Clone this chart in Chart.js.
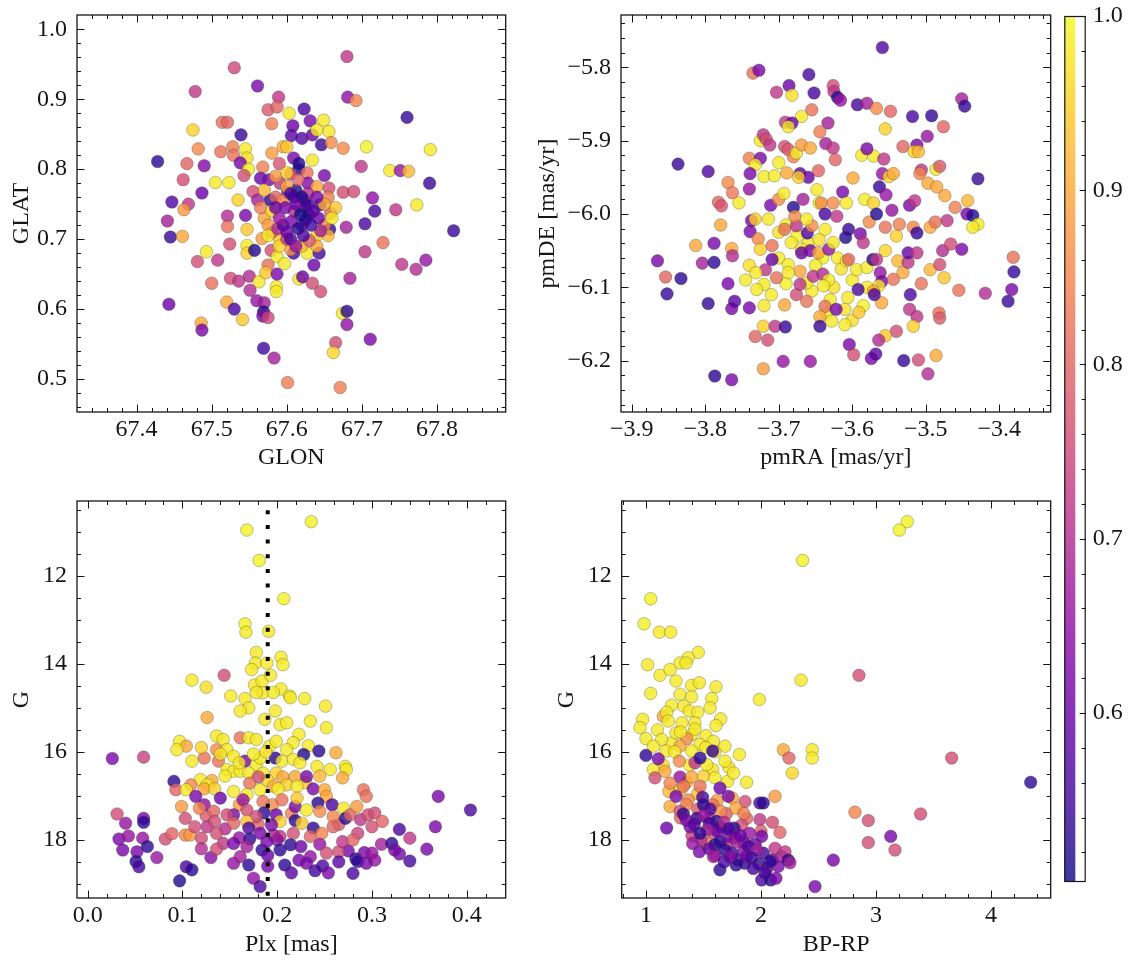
<!DOCTYPE html>
<html><head><meta charset="utf-8">
<script src="https://cdn.jsdelivr.net/npm/chart.js@4.4.1/dist/chart.umd.min.js"></script>
<style>
html,body{margin:0;padding:0;background:#fff;width:1133px;height:965px;overflow:hidden}
canvas{position:absolute}
</style></head><body>
<canvas id="cTL" style="left:0px;top:0px" width="515" height="480"></canvas>
<canvas id="cTR" style="left:521px;top:0px" width="540" height="480"></canvas>
<canvas id="cBL" style="left:0px;top:480px" width="515" height="485"></canvas>
<canvas id="cBR" style="left:521px;top:480px" width="540" height="485"></canvas>
<canvas id="cCB" style="left:1040px;top:0px" width="93" height="965"></canvas>
<script>
// ---------------- data: [x, y, membership probability] ----------------
const glonGlatProb = [
[67.680,0.961,0.72],[67.530,0.945,0.75],[67.478,0.911,0.72],[67.561,0.919,0.62],[67.589,0.903,0.72],[67.681,0.903,0.65],[67.692,0.898,0.85],[67.575,0.885,0.78],[67.587,0.889,0.80],[67.603,0.880,0.98],
[67.623,0.886,0.56],[67.760,0.874,0.54],[67.514,0.867,0.82],[67.521,0.867,0.80],[67.580,0.865,0.84],[67.631,0.869,0.62],[67.649,0.870,0.98],[67.608,0.862,0.60],[67.656,0.854,0.98],[67.475,0.856,0.95],
[67.539,0.849,0.54],[67.606,0.848,0.58],[67.620,0.844,0.57],[67.634,0.849,0.60],[67.640,0.856,0.98],[67.646,0.835,0.54],[67.659,0.838,0.86],[67.675,0.830,0.86],[67.706,0.832,0.99],[67.791,0.828,0.98],
[67.482,0.829,0.86],[67.512,0.825,0.82],[67.528,0.832,0.84],[67.529,0.820,0.82],[67.545,0.829,0.98],[67.547,0.816,0.97],[67.580,0.823,0.88],[67.595,0.832,0.90],[67.600,0.832,0.94],[67.609,0.816,0.62],
[67.634,0.813,0.98],[67.428,0.811,0.53],[67.467,0.808,0.80],[67.490,0.805,0.63],[67.538,0.809,0.62],[67.549,0.800,0.98],[67.568,0.803,0.84],[67.590,0.808,0.77],[67.616,0.808,0.52],[67.616,0.800,0.52],
[67.627,0.795,0.82],[67.605,0.793,0.76],[67.650,0.791,0.62],[67.699,0.804,0.72],[67.737,0.798,0.98],[67.751,0.798,0.66],[67.762,0.797,0.92],[67.790,0.780,0.54],[67.462,0.785,0.76],[67.505,0.781,0.98],
[67.523,0.781,0.98],[67.543,0.791,0.76],[67.565,0.787,0.60],[67.576,0.785,0.62],[67.591,0.780,0.72],[67.628,0.780,0.63],[67.656,0.773,0.76],[67.675,0.767,0.76],[67.689,0.768,0.76],[67.487,0.766,0.60],
[67.447,0.753,0.57],[67.469,0.750,0.72],[67.463,0.742,0.88],[67.535,0.756,0.95],[67.555,0.768,0.76],[67.561,0.756,0.68],[67.578,0.756,0.53],[67.601,0.767,0.60],[67.612,0.770,0.52],[67.624,0.755,0.52],
[67.644,0.749,0.56],[67.658,0.737,0.80],[67.714,0.759,0.65],[67.717,0.740,0.56],[67.745,0.742,0.72],[67.773,0.749,0.98],[67.441,0.726,0.68],[67.445,0.703,0.54],[67.461,0.704,0.90],[67.521,0.733,0.70],
[67.521,0.718,0.82],[67.545,0.734,0.62],[67.547,0.714,0.94],[67.524,0.693,0.76],[67.493,0.682,0.98],[67.481,0.668,0.76],[67.508,0.670,0.72],[67.547,0.691,0.98],[67.547,0.680,0.95],[67.557,0.684,0.52],
[67.567,0.701,0.88],[67.579,0.684,0.76],[67.587,0.675,0.98],[67.597,0.665,0.98],[67.609,0.680,0.55],[67.627,0.680,0.98],[67.643,0.680,0.56],[67.636,0.663,0.60],[67.657,0.714,0.54],[67.679,0.717,0.68],
[67.704,0.722,0.56],[67.822,0.712,0.54],[67.728,0.695,0.82],[67.704,0.682,0.72],[67.753,0.664,0.72],[67.772,0.657,0.70],[67.785,0.670,0.66],[67.684,0.644,0.68],[67.525,0.644,0.76],[67.536,0.640,0.72],
[67.500,0.637,0.82],[67.550,0.647,0.70],[67.563,0.639,0.98],[67.575,0.663,0.82],[67.572,0.652,0.94],[67.587,0.650,0.62],[67.586,0.632,0.98],[67.586,0.625,0.98],[67.616,0.643,0.98],[67.621,0.646,0.60],
[67.634,0.637,0.76],[67.645,0.625,0.76],[67.551,0.627,0.70],[67.560,0.612,0.66],[67.570,0.609,0.68],[67.520,0.610,0.90],[67.530,0.600,0.56],[67.541,0.585,0.94],[67.443,0.607,0.60],[67.569,0.596,0.52],
[67.568,0.590,0.62],[67.575,0.588,0.75],[67.486,0.580,0.90],[67.487,0.570,0.62],[67.674,0.594,0.98],[67.680,0.597,0.53],[67.680,0.578,0.65],[67.711,0.557,0.62],[67.665,0.552,0.76],[67.662,0.538,0.96],
[67.569,0.544,0.55],[67.583,0.530,0.68],[67.601,0.495,0.84],[67.671,0.488,0.84],
[67.570,0.770,0.92],[67.585,0.790,0.88],[67.600,0.795,0.95],[67.615,0.785,0.80],[67.640,0.775,0.90],[67.655,0.760,0.84],[67.665,0.745,0.94],[67.650,0.720,0.86],[67.640,0.705,0.96],[67.620,0.690,0.92],
[67.605,0.685,0.88],[67.590,0.700,0.94],[67.570,0.730,0.90],[67.565,0.745,0.84],[67.580,0.710,0.78],
[67.575,0.720,0.88],[67.580,0.740,0.95],[67.650,0.750,0.90],[67.585,0.760,0.80],[67.660,0.730,0.98],[67.590,0.690,0.96],[67.640,0.690,0.90],[67.655,0.705,0.92],[67.600,0.775,0.90],[67.575,0.705,0.98],
[67.628,0.765,0.70],[67.595,0.755,0.85],[67.600,0.700,0.74],[67.630,0.698,0.78],[67.588,0.715,0.70],[67.645,0.712,0.68],[67.610,0.740,0.70],[67.625,0.745,0.66],
[67.595,0.720,0.58],[67.630,0.735,0.54],[67.610,0.760,0.58],[67.640,0.760,0.62],[67.585,0.745,0.60],[67.620,0.720,0.64],[67.605,0.700,0.56],
[67.605,0.765,0.55],[67.620,0.760,0.52],[67.612,0.750,0.60],[67.628,0.748,0.54],[67.598,0.745,0.62],[67.635,0.740,0.58],[67.618,0.735,0.50],[67.625,0.728,0.52],[67.606,0.725,0.62],[67.590,0.730,0.66],
[67.642,0.730,0.60],[67.632,0.720,0.55],[67.615,0.715,0.52],[67.600,0.710,0.60],[67.622,0.705,0.56],[67.612,0.690,0.66]
];

const pmraPmdeProb = [
[-3.559,-5.773,0.57],[-3.735,-5.808,0.82],[-3.727,-5.804,0.62],[-3.659,-5.810,0.56],[-3.703,-5.834,0.72],[-3.686,-5.825,0.60],[-3.682,-5.838,0.97],[-3.652,-5.835,0.56],[-3.626,-5.825,0.76],[-3.625,-5.833,0.72],
[-3.620,-5.841,0.52],[-3.616,-5.845,0.66],[-3.593,-5.851,0.56],[-3.580,-5.849,0.68],[-3.567,-5.856,0.86],[-3.548,-5.860,0.80],[-3.555,-5.884,0.95],[-3.518,-5.867,0.56],[-3.492,-5.866,0.54],[-3.476,-5.881,0.80],
[-3.451,-5.843,0.68],[-3.447,-5.853,0.54],[-3.669,-5.867,0.98],[-3.655,-5.858,0.82],[-3.691,-5.875,0.72],[-3.682,-5.876,0.60],[-3.687,-5.881,0.98],[-3.633,-5.876,0.68],[-3.644,-5.888,0.84],[-3.725,-5.900,0.98],
[-3.721,-5.892,0.72],[-3.717,-5.898,0.76],[-3.712,-5.906,0.72],[-3.740,-5.924,0.84],[-3.725,-5.924,0.62],[-3.732,-5.933,0.98],[-3.692,-5.908,0.76],[-3.687,-5.912,0.78],[-3.680,-5.922,0.84],[-3.676,-5.917,0.98],
[-3.669,-5.906,0.88],[-3.657,-5.910,0.90],[-3.636,-5.904,0.68],[-3.626,-5.910,0.72],[-3.623,-5.926,0.80],[-3.700,-5.930,0.98],[-3.646,-5.941,0.80],[-3.739,-5.945,0.62],[-3.720,-5.949,0.98],[-3.706,-5.948,0.98],
[-3.689,-5.944,0.90],[-3.671,-5.945,0.58],[-3.660,-5.950,0.60],[-3.673,-5.950,0.95],[-3.587,-5.920,0.98],[-3.571,-5.921,0.98],[-3.580,-5.911,0.62],[-3.557,-5.925,0.72],[-3.559,-5.945,0.66],[-3.550,-5.949,0.95],
[-3.544,-5.945,0.90],[-3.531,-5.908,0.80],[-3.512,-5.906,0.62],[-3.516,-5.915,0.95],[-3.510,-5.915,0.92],[-3.498,-5.894,0.66],[-3.506,-5.940,0.72],[-3.508,-5.945,0.85],[-3.486,-5.939,0.98],[-3.481,-5.935,0.78],
[-3.429,-5.952,0.54],[-3.599,-5.951,0.90],[-3.837,-5.932,0.54],[-3.796,-5.942,0.57],[-3.769,-5.957,0.86],[-3.763,-5.971,0.83],[-3.740,-5.966,0.66],[-3.754,-5.985,0.98],[-3.782,-5.984,0.80],[-3.778,-5.989,0.77],
[-3.711,-5.988,0.62],[-3.700,-5.980,0.86],[-3.693,-5.972,0.98],[-3.680,-5.991,0.52],[-3.667,-5.980,0.68],[-3.648,-5.967,0.98],[-3.645,-5.985,0.98],[-3.613,-5.970,0.62],[-3.608,-5.985,0.98],[-3.642,-5.985,0.86],
[-3.626,-5.985,0.86],[-3.583,-5.980,0.98],[-3.571,-5.985,0.95],[-3.563,-5.963,0.54],[-3.554,-5.974,0.66],[-3.546,-5.995,0.66],[-3.522,-5.988,0.62],[-3.515,-5.982,0.72],[-3.497,-5.958,0.90],[-3.485,-5.963,0.90],
[-3.474,-5.975,0.90],[-3.460,-5.991,0.84],[-3.443,-5.982,0.92],[-3.444,-6.000,0.62],[-3.436,-6.002,0.52],
[-3.690,-6.015,0.98],[-3.700,-6.025,0.97],[-3.675,-6.030,0.99],[-3.660,-6.040,0.98],[-3.645,-6.035,0.97],[-3.640,-6.060,0.99],[-3.620,-6.060,0.98],[-3.615,-6.075,0.97],[-3.650,-6.070,0.98],[-3.700,-6.060,0.98],
[-3.690,-6.095,0.99],[-3.655,-6.105,0.98],[-3.625,-6.100,0.97],[-3.600,-6.090,0.98],[-3.610,-6.130,0.97],[-3.585,-6.125,0.99],[-3.740,-6.070,0.97],[-3.745,-6.090,0.98],[-3.710,-6.110,0.98],[-3.635,-6.135,0.98],
[-3.580,-6.100,0.98],[-3.555,-6.050,0.96],[-3.540,-6.030,0.95],[-3.720,-6.125,0.98],[-3.600,-6.145,0.97],
[-3.779,-6.015,0.90],[-3.737,-6.009,0.62],[-3.739,-6.024,0.62],[-3.728,-6.034,0.86],[-3.732,-6.007,0.95],[-3.714,-6.007,0.98],[-3.692,-6.021,0.82],[-3.676,-6.016,0.72],[-3.678,-6.003,0.86],[-3.661,-6.026,0.56],
[-3.655,-6.016,0.86],[-3.662,-6.007,0.98],[-3.637,-6.000,0.56],[-3.637,-6.021,0.98],[-3.621,-6.003,0.72],[-3.609,-6.032,0.52],[-3.605,-6.021,0.54],[-3.589,-6.027,0.62],[-3.585,-6.039,0.72],[-3.577,-6.011,0.86],
[-3.567,-6.000,0.52],[-3.555,-6.018,0.82],[-3.536,-6.014,0.84],[-3.517,-6.018,0.85],[-3.512,-6.026,0.54],[-3.494,-6.018,0.90],[-3.487,-6.011,0.82],[-3.471,-6.009,0.72],[-3.429,-6.014,0.98],[-3.436,-6.018,0.98],
[-3.813,-6.043,0.90],[-3.788,-6.040,0.62],[-3.764,-6.047,0.90],[-3.763,-6.057,0.70],[-3.865,-6.064,0.62],[-3.854,-6.086,0.80],[-3.852,-6.109,0.54],[-3.833,-6.088,0.53],[-3.804,-6.067,0.68],[-3.788,-6.066,0.53],
[-3.769,-6.095,0.62],[-3.796,-6.122,0.54],[-3.764,-6.129,0.62],[-3.760,-6.119,0.58],[-3.740,-6.128,0.62],
[-3.725,-6.048,0.95],[-3.709,-6.043,0.82],[-3.683,-6.039,0.98],[-3.669,-6.048,0.98],[-3.669,-6.053,0.60],[-3.657,-6.050,0.62],[-3.646,-6.053,0.90],[-3.632,-6.048,0.66],[-3.626,-6.039,0.98],[-3.687,-6.069,0.98],
[-3.671,-6.078,0.90],[-3.687,-6.080,0.98],[-3.709,-6.062,0.60],[-3.718,-6.076,0.72],[-3.703,-6.087,0.82],[-3.731,-6.080,0.98],[-3.720,-6.096,0.98],[-3.730,-6.103,0.98],[-3.692,-6.124,0.90],[-3.676,-6.110,0.76],
[-3.662,-6.119,0.82],[-3.662,-6.094,0.98],[-3.671,-6.096,0.72],[-3.653,-6.085,0.72],[-3.640,-6.082,0.70],[-3.632,-6.090,0.98],[-3.639,-6.098,0.98],[-3.630,-6.117,0.98],[-3.637,-6.126,0.82],[-3.622,-6.130,0.62],
[-3.644,-6.140,0.90],[-3.644,-6.153,0.54],[-3.628,-6.146,0.98],[-3.721,-6.153,0.95],[-3.705,-6.153,0.72],[-3.691,-6.154,0.54],[-3.610,-6.151,0.98],[-3.608,-6.064,0.98],[-3.605,-6.062,0.80],[-3.594,-6.076,0.98],
[-3.580,-6.073,0.98],[-3.572,-6.062,0.52],[-3.567,-6.062,0.72],[-3.562,-6.080,0.66],[-3.560,-6.092,0.62],[-3.564,-6.098,0.98],[-3.571,-6.105,0.90],[-3.560,-6.121,0.90],[-3.570,-6.110,0.56],[-3.592,-6.103,0.56],
[-3.606,-6.114,0.98],[-3.591,-6.134,0.94],[-3.544,-6.089,0.82],[-3.538,-6.064,0.92],[-3.531,-6.080,0.90],[-3.524,-6.066,0.72],[-3.524,-6.053,0.60],[-3.512,-6.053,0.72],[-3.521,-6.110,0.56],[-3.506,-6.095,0.82],
[-3.494,-6.076,0.92],[-3.481,-6.069,0.76],[-3.475,-6.087,0.94],[-3.477,-6.050,0.70],[-3.466,-6.041,0.76],[-3.451,-6.048,0.62],[-3.455,-6.104,0.82],[-3.419,-6.108,0.70],[-3.381,-6.059,0.82],[-3.380,-6.079,0.54],
[-3.383,-6.103,0.62],[-3.388,-6.119,0.54],[-3.522,-6.130,0.72],[-3.512,-6.140,0.72],[-3.517,-6.153,0.95],[-3.482,-6.135,0.82],[-3.481,-6.142,0.78],[-3.540,-6.160,0.76],[-3.555,-6.166,0.94],[-3.564,-6.172,0.70],
[-3.604,-6.178,0.62],[-3.598,-6.192,0.76],[-3.574,-6.197,0.62],[-3.568,-6.191,0.58],[-3.530,-6.200,0.54],[-3.510,-6.199,0.76],[-3.486,-6.193,0.90],[-3.497,-6.218,0.70],[-3.732,-6.167,0.80],[-3.715,-6.172,0.76],
[-3.721,-6.211,0.88],[-3.694,-6.201,0.66],[-3.657,-6.201,0.66],[-3.787,-6.221,0.53],[-3.764,-6.226,0.62]
];

const plxGProb = [
[0.236,10.77,0.99],[0.168,10.96,0.99],[0.181,11.65,0.99],[0.207,12.52,0.99],[0.166,13.09,0.99],[0.167,13.28,0.98],[0.191,13.26,0.98],[0.178,13.74,0.98],[0.204,13.85,0.98],[0.206,14.02,0.98],
[0.177,13.98,0.98],[0.189,13.98,0.98],[0.173,14.13,0.98],[0.144,14.26,0.76],[0.110,14.37,0.98],[0.125,14.53,0.97],[0.176,14.48,0.98],[0.184,14.39,0.98],[0.193,14.26,0.98],[0.204,14.57,0.98],
[0.185,14.66,0.98],[0.213,14.73,0.98],[0.151,14.73,0.98],[0.166,14.79,0.98],[0.229,14.79,0.98],[0.170,15.00,0.98],[0.178,14.65,0.98],[0.196,14.65,0.98],[0.214,14.77,0.98],[0.251,14.96,0.98],
[0.126,15.22,0.90],[0.161,15.07,0.98],[0.187,15.26,0.98],[0.198,15.07,0.98],[0.203,15.38,0.98],[0.210,15.34,0.98],[0.235,15.30,0.98],[0.252,15.45,0.98],[0.223,15.60,0.98],[0.136,15.64,0.98],
[0.143,15.72,0.98],[0.161,15.68,0.82],[0.170,15.68,0.98],[0.178,15.72,0.98],[0.192,15.87,0.98],[0.199,15.76,0.98],[0.217,15.79,0.98],[0.233,15.86,0.98],[0.097,15.76,0.98],[0.104,15.87,0.90],
[0.094,15.95,0.98],[0.110,16.21,0.98],[0.123,16.14,0.82],[0.136,15.95,0.86],[0.147,15.95,0.98],[0.154,16.10,0.98],[0.138,16.21,0.82],[0.166,16.21,0.62],[0.178,16.29,0.98],[0.182,16.14,0.98],
[0.198,16.14,0.53],[0.205,16.21,0.98],[0.217,16.17,0.98],[0.228,16.06,0.52],[0.244,15.98,0.53],[0.262,16.02,0.90],[0.224,16.25,0.98],[0.242,16.33,0.98],[0.256,16.40,0.98],[0.272,16.33,0.98],
[0.273,16.40,0.98],[0.269,16.59,0.90],[0.026,16.15,0.62],[0.059,16.12,0.74],[0.147,16.40,0.98],[0.154,16.44,0.98],[0.161,16.44,0.98],[0.170,16.48,0.98],[0.185,16.48,0.98],[0.199,16.48,0.95],
[0.145,16.55,0.98],[0.160,16.25,0.98],[0.188,16.00,0.97],[0.210,15.95,0.98],[0.230,16.70,0.95],[0.245,16.55,0.92],[0.190,16.65,0.96],[0.175,16.05,0.98],[0.140,16.05,0.97],[0.120,15.90,0.95],
[0.206,16.57,0.90],[0.219,16.56,0.90],[0.231,16.56,0.62],[0.210,16.75,0.95],[0.221,16.78,0.98],[0.119,16.63,0.98],[0.131,16.65,0.90],[0.126,16.75,0.98],[0.091,16.67,0.53],[0.109,16.75,0.85],
[0.093,16.86,0.80],[0.104,16.86,0.98],[0.123,16.84,0.90],[0.134,16.84,0.95],[0.180,16.57,0.76],[0.171,16.71,0.82],[0.154,16.90,0.98],[0.168,16.97,0.98],[0.182,16.86,0.98],[0.196,16.78,0.90],
[0.201,16.84,0.98],[0.238,16.84,0.62],[0.250,16.86,0.90],[0.252,17.01,0.90],[0.258,17.20,0.56],[0.243,17.16,0.53],[0.291,16.86,0.82],[0.294,17.01,0.82],[0.370,17.01,0.62],[0.404,17.32,0.56],
[0.160,17.20,0.88],[0.180,17.65,0.80],[0.195,17.20,0.86],[0.215,17.40,0.84],[0.245,17.35,0.86],[0.265,17.65,0.78],[0.285,17.85,0.74],[0.300,17.70,0.76],[0.125,17.45,0.78],[0.145,17.75,0.70],
[0.114,17.01,0.62],[0.123,17.20,0.65],[0.140,17.05,0.60],[0.164,17.09,0.66],[0.099,17.24,0.88],[0.118,17.28,0.85],[0.133,17.35,0.80],[0.154,17.43,0.62],[0.168,17.32,0.76],[0.185,17.13,0.82],
[0.205,17.09,0.82],[0.219,17.24,0.62],[0.221,17.05,0.94],[0.231,17.32,0.98],[0.199,17.43,0.60],[0.186,17.39,0.53],[0.203,17.58,0.95],[0.219,17.56,0.53],[0.238,17.73,0.53],[0.259,17.47,0.85],
[0.270,17.28,0.98],[0.272,17.51,0.53],[0.277,17.43,0.80],[0.288,17.54,0.72],[0.296,17.43,0.76],[0.303,17.39,0.76],[0.311,17.58,0.80],[0.284,17.24,0.88],[0.031,17.41,0.76],[0.040,17.62,0.66],
[0.059,17.51,0.62],[0.059,17.60,0.53],[0.033,17.98,0.62],[0.043,17.91,0.66],[0.058,17.96,0.66],[0.037,18.23,0.62],[0.052,18.27,0.62],[0.063,18.15,0.53],[0.073,18.40,0.66],[0.051,18.49,0.53],
[0.054,18.61,0.56],[0.082,17.98,0.76],[0.089,17.86,0.80],[0.103,17.51,0.76],[0.103,17.89,0.85],[0.108,17.89,0.88],[0.120,17.96,0.76],[0.126,17.70,0.72],[0.134,17.58,0.76],[0.147,17.43,0.76],
[0.154,17.62,0.80],[0.136,17.85,0.76],[0.113,17.70,0.76],[0.178,17.47,0.76],[0.217,17.85,0.76],[0.235,17.92,0.80],[0.247,17.85,0.85],[0.259,17.70,0.80],[0.203,17.92,0.72],[0.226,17.62,0.94],
[0.168,17.58,0.93],[0.160,17.95,0.66],[0.200,18.00,0.64],[0.245,18.10,0.66],[0.120,18.20,0.70],[0.310,18.10,0.68],[0.275,18.25,0.62],[0.130,18.40,0.64],
[0.143,18.08,0.72],[0.136,18.21,0.76],[0.154,18.08,0.62],[0.170,17.73,0.56],[0.171,17.98,0.53],[0.182,17.85,0.62],[0.184,18.23,0.53],[0.196,17.89,0.68],[0.203,18.23,0.53],
[0.214,18.11,0.53],[0.208,18.57,0.53],[0.223,18.46,0.62],[0.235,18.38,0.65],[0.231,18.53,0.62],[0.248,18.59,0.57],[0.254,18.75,0.62],[0.252,18.30,0.76],[0.265,18.27,0.76],[0.269,18.04,0.72],
[0.280,18.00,0.80],[0.280,18.76,0.56],[0.283,18.43,0.53],[0.285,18.49,0.53],[0.292,18.29,0.62],[0.300,18.30,0.66],[0.303,18.46,0.66],[0.294,18.53,0.62],[0.321,18.08,0.53],[0.329,17.76,0.56],
[0.324,18.23,0.62],[0.329,18.32,0.62],[0.340,17.96,0.72],[0.340,18.48,0.56],[0.358,18.21,0.62],[0.367,17.70,0.62],[0.097,18.93,0.52],[0.104,18.61,0.56],[0.110,18.68,0.53],[0.154,18.53,0.66],
[0.190,18.35,0.60],[0.225,18.15,0.60],[0.265,18.50,0.58],[0.240,18.70,0.55],[0.215,18.75,0.58],[0.190,18.60,0.62],
[0.170,18.57,0.53],[0.175,18.87,0.65],[0.182,19.06,0.56],[0.161,18.38,0.68],[0.189,18.04,0.62],[0.194,17.66,0.62],[0.168,18.15,0.68]
];

const bprpGProb = [
[3.272,10.77,0.99],[3.203,10.96,0.99],[2.362,11.65,0.99],[1.041,12.52,0.99],[0.983,13.09,0.99],[1.116,13.28,0.98],[1.214,13.28,0.98],[1.455,13.74,0.98],[1.368,13.86,0.98],[1.296,13.98,0.98],
[1.348,13.98,0.98],[1.014,14.02,0.98],[1.122,14.26,0.98],[1.209,14.13,0.98],[1.261,14.39,0.98],[1.397,14.49,0.98],[1.464,14.43,0.98],[1.609,14.52,0.98],[1.041,14.67,0.98],[1.296,14.69,0.98],
[1.397,14.75,0.98],[1.571,14.79,0.98],[1.986,14.81,0.98],[2.348,14.37,0.98],[2.852,14.26,0.76],[1.223,14.94,0.98],[1.330,14.96,0.98],[1.557,15.00,0.98],[1.377,15.07,0.98],[1.151,15.19,0.90],
[1.180,15.10,0.98],[1.450,15.10,0.98],[1.650,15.25,0.98],[1.100,15.50,0.98],[1.000,15.70,0.98],[1.220,15.80,0.98],[1.400,15.60,0.98],
[0.971,15.26,0.98],[1.194,15.30,0.98],[1.313,15.34,0.98],[1.426,15.34,0.98],[0.948,15.45,0.98],[1.426,15.48,0.98],[1.609,15.40,0.98],[1.261,15.57,0.98],[1.522,15.63,0.98],[1.136,15.72,0.98],
[1.354,15.70,0.86],[1.470,15.83,0.98],[1.586,15.76,0.98],[1.687,15.87,0.98],[1.064,15.87,0.98],[1.296,15.87,0.90],[1.174,15.98,0.98],[1.397,15.98,0.98],[1.300,15.55,0.98],[1.520,15.90,0.98],
[1.250,16.00,0.98],[1.380,16.30,0.98],[1.580,16.40,0.97],[1.450,16.95,0.93],[1.600,16.00,0.98],[1.720,16.35,0.97],[1.500,16.55,0.95],[1.350,16.70,0.90],[1.150,16.30,0.97],[1.200,16.90,0.92],[1.300,16.85,0.95],
[1.812,16.06,0.98],[2.194,15.95,0.90],[2.243,16.14,0.80],[2.446,15.95,0.98],[2.446,16.14,0.98],[2.272,16.48,0.96],
[3.658,16.14,0.76],[4.345,16.69,0.53],[1.290,16.21,0.86],[1.426,16.25,0.72],[1.528,16.29,0.98],[1.687,16.21,0.98],[1.064,16.40,0.98],[1.165,16.44,0.90],[1.078,16.59,0.76],[1.296,16.57,0.66],
[1.397,16.57,0.90],[1.209,16.71,0.85],[1.470,16.78,0.82],[1.600,16.59,0.98],[1.710,16.67,0.98],[1.762,16.48,0.98],[1.875,16.69,0.98],[1.325,16.78,0.82],[1.368,17.09,0.85],[1.209,17.24,0.90],
[1.350,17.20,0.85],[1.620,17.10,0.88],[1.750,17.05,0.90],[1.700,17.40,0.78],[1.550,17.50,0.70],[1.296,17.35,0.76],[1.861,17.13,0.76],[1.783,17.28,0.90],[1.875,17.51,0.80],[1.832,17.66,0.76],
[1.990,17.54,0.72],[2.122,17.01,0.88],[2.165,17.83,0.80],[1.586,17.85,0.76],[1.522,18.08,0.85],
[1.300,17.50,0.80],[1.450,17.30,0.78],[1.580,17.20,0.82],[1.650,17.35,0.86],[1.850,17.40,0.84],[2.000,17.80,0.78],[2.100,17.60,0.76],[1.480,18.00,0.70],[1.400,17.90,0.74],[1.700,18.10,0.72],
[1.000,16.08,0.53],[1.107,16.16,0.62],[1.470,16.14,0.53],[1.580,15.98,0.54],[1.643,16.82,0.60],
[1.716,17.01,0.62],[1.493,17.03,0.56],[1.261,17.01,0.62],[1.325,17.41,0.53],[1.441,17.51,0.53],[1.499,17.20,0.53],[1.557,17.30,0.56],[1.614,17.58,0.53],[1.655,17.70,0.53],[1.765,17.73,0.53],
[1.990,17.16,0.56],[2.020,17.16,0.53],[1.180,17.73,0.60],[1.383,17.70,0.62],[1.406,18.08,0.66],[1.464,18.27,0.62],[1.600,18.11,0.53],[1.643,18.04,0.53],[1.687,18.23,0.53],[1.716,17.92,0.62],
[1.350,17.55,0.62],[1.420,17.65,0.58],[1.500,17.45,0.66],[1.550,17.62,0.55],[1.620,17.80,0.60],[1.680,17.60,0.70],[1.720,17.75,0.56],[1.780,17.95,0.62],[1.850,18.05,0.58],[1.900,17.85,0.66],
[1.950,18.10,0.60],[2.020,18.30,0.55],[2.100,18.45,0.58],[2.150,18.60,0.62],[1.750,18.30,0.54],[1.800,18.45,0.56],[1.850,18.25,0.64],[1.980,18.55,0.54],[2.050,18.65,0.60],[1.600,18.35,0.62],
[1.788,18.04,0.68],[1.890,18.15,0.57],[1.820,17.90,0.60],[1.550,18.20,0.58],[1.783,18.57,0.53],[1.861,18.53,0.53],[1.933,18.65,0.56],[2.006,17.92,0.62],[2.035,18.75,0.56],[2.006,18.91,0.56],
[2.084,18.91,0.53],[2.130,18.87,0.62],[2.078,18.49,0.53],[2.122,18.19,0.72],[2.180,18.38,0.68],[2.209,18.27,0.72],[2.238,18.46,0.53],[2.252,18.52,0.68],[1.643,18.68,0.53],[1.586,18.38,0.68],
[1.533,17.77,0.68],[1.730,18.38,0.65],[1.875,18.38,0.62],[1.962,18.23,0.68],[1.470,17.85,0.53],[1.680,18.50,0.56],[1.920,18.40,0.55],[2.470,19.06,0.62],[2.629,18.46,0.62],[2.817,17.37,0.85],
[2.933,17.56,0.76],[2.933,18.06,0.76],[3.128,17.92,0.62],[3.165,18.23,0.76],[3.388,17.41,0.76]
];

// axis ticks and labels
const glonTicks = [67.4, 67.5, 67.6, 67.7, 67.8];
const glatTicks = [0.5, 0.6, 0.7, 0.8, 0.9, 1.0];
const pmraTicks = [-3.9, -3.8, -3.7, -3.6, -3.5, -3.4];
const pmdeTicks = [-5.8, -5.9, -6.0, -6.1, -6.2];
const plxTicks = [0.0, 0.1, 0.2, 0.3, 0.4];
const gTicks = [12, 14, 16, 18];
const bprpTicks = [1, 2, 3, 4];
const probTicks = [0.6, 0.7, 0.8, 0.9, 1.0];
const plxCut = 0.19;
const probRange = [0.503, 1.0];

// ---------------- styling helpers ----------------
const PLASMA = [[13,8,135],[65,4,157],[106,0,168],[143,13,164],[177,42,144],[204,71,120],[225,100,98],[242,132,75],[252,166,54],[252,206,37],[240,249,33]];
function plasma(t){t=Math.max(0,Math.min(1,t));const s=t*10;const i=Math.min(9,Math.floor(s));const f=s-i;const a=PLASMA[i],b=PLASMA[i+1];return a.map((v,k)=>Math.round(v+(b[k]-v)*f));}
function colorFor(p,alpha){const c=plasma((p-probRange[0])/(probRange[1]-probRange[0]));return `rgba(${c[0]},${c[1]},${c[2]},${alpha})`;}
const fmt = d => v => { const s = Number(v).toFixed(d); return s.replace('-', '\u2212'); };
const INK = '#161616';

Chart.defaults.font.family = '"Liberation Serif", "Times New Roman", serif';
Chart.defaults.font.size = 24;
Chart.defaults.color = INK;

function minorVals(min,max,step){const out=[];for(let k=Math.ceil(min/step-1e-9);k*step<=max+1e-9;k++)out.push(k*step);return out;}
function noPad(s){ s.paddingTop = 0; s.paddingBottom = 0; s.paddingLeft = 0; s.paddingRight = 0; }

const framePlugin = {
  id: 'frame',
  afterDatasetsDraw(chart, args, o) {
    const {ctx, chartArea: a} = chart;
    ctx.save();
    ctx.strokeStyle = INK; ctx.lineWidth = 1;
    const ys = chart.scales.y;
    if (o.cb) {
      const line = (v, len) => { const py = Math.round(ys.getPixelForValue(v)) + 0.5; if (py < a.top || py > a.bottom) return; ctx.beginPath(); ctx.moveTo(a.right, py); ctx.lineTo(a.right - len, py); ctx.stroke(); };
      minorVals(ys.min, ys.max, o.yMinor).forEach(v => line(v, 4));
      ys.ticks.forEach(t => line(t.value, 6));
      ctx.lineWidth = 1.2; ctx.strokeRect(a.left + 0.5, a.top + 0.5, a.right - a.left - 1, a.bottom - a.top - 1);
    } else {
      const xs = chart.scales.x;
      const dx = (v, len) => { const px = Math.round(xs.getPixelForValue(v)) + 0.5; if (px < a.left + 1 || px > a.right - 1) return; ctx.beginPath(); ctx.moveTo(px, a.bottom); ctx.lineTo(px, a.bottom - len); ctx.moveTo(px, a.top); ctx.lineTo(px, a.top + len); ctx.stroke(); };
      const dy = (v, len) => { const py = Math.round(ys.getPixelForValue(v)) + 0.5; if (py < a.top + 1 || py > a.bottom - 1) return; ctx.beginPath(); ctx.moveTo(a.left, py); ctx.lineTo(a.left + len, py); ctx.moveTo(a.right, py); ctx.lineTo(a.right - len, py); ctx.stroke(); };
      minorVals(xs.min, xs.max, o.xMinor).forEach(v => dx(v, 4));
      minorVals(ys.min, ys.max, o.yMinor).forEach(v => dy(v, 4));
      xs.ticks.forEach(t => dx(t.value, 7.5));
      ys.ticks.forEach(t => dy(t.value, 7.5));
      ctx.lineWidth = 1.3; ctx.strokeRect(a.left, a.top, a.right - a.left, a.bottom - a.top);
    }
    ctx.restore();
  }
};
Chart.register(framePlugin);

function axis(opt) {
  return {
    type: 'linear', min: opt.min, max: opt.max, reverse: !!opt.reverse, position: opt.position,
    grid: { display: false, drawTicks: false }, border: { display: false },
    afterBuildTicks: s => { s.ticks = opt.ticks.map(v => ({ value: v })); },
    ticks: { autoSkip: false, maxRotation: 0, minRotation: 0, padding: opt.tickPad, callback: fmt(opt.dec), color: INK },
    title: { display: true, text: opt.title, color: INK, padding: opt.titlePad },
    afterFit: s => { if (opt.w !== undefined) s.width = opt.w; if (opt.h !== undefined) s.height = opt.h; noPad(s); }
  };
}

function scatterSet(rows) {
  return {
    type: 'scatter',
    data: rows.map(r => ({ x: r[0], y: r[1] })),
    pointRadius: 6.3, pointHoverRadius: 6.3,
    pointBackgroundColor: rows.map(r => colorFor(r[2], 0.8)),
    pointBorderColor: 'rgba(50,50,40,0.5)', pointBorderWidth: 0.6,
    showLine: false
  };
}

function baseOptions(pad, xs, ys, minors) {
  return {
    responsive: false, animation: false, events: [],
    layout: { padding: pad, autoPadding: false },
    plugins: { legend: { display: false }, tooltip: { enabled: false }, frame: minors },
    scales: { x: xs, y: ys }
  };
}

// Top-left: GLON vs GLAT
new Chart(document.getElementById('cTL'), {
  type: 'scatter',
  data: { datasets: [scatterSet(glonGlatProb)] },
  options: baseOptions({ left: 0, top: 15, right: 9.3, bottom: 0 },
    axis({ min: 67.3207, max: 67.8913, ticks: glonTicks, dec: 1, title: 'GLON', tickPad: 3, titlePad: { top: 0, bottom: 7.8 }, h: 68 }),
    axis({ min: 0.4529, max: 1.0204, ticks: glatTicks, dec: 1, title: 'GLAT', tickPad: 10, titlePad: { top: 7, bottom: 0 }, w: 77 }),
    { xMinor: 0.02, yMinor: 0.02 })
});

// Top-right: pmRA vs pmDE
new Chart(document.getElementById('cTR'), {
  type: 'scatter',
  data: { datasets: [scatterSet(pmraPmdeProb)] },
  options: baseOptions({ left: 0, top: 15, right: 10.3, bottom: 0 },
    axis({ min: -3.9146, max: -3.330, ticks: pmraTicks, dec: 1, title: 'pmRA [mas/yr]', tickPad: 3, titlePad: { top: 0, bottom: 7.8 }, h: 68 }),
    axis({ min: -6.270, max: -5.7287, ticks: pmdeTicks, dec: 1, title: 'pmDE [mas/yr]', tickPad: 10, titlePad: { top: 12.8, bottom: 0 }, w: 100 }),
    { xMinor: 0.02, yMinor: 0.02 })
});

// Bottom-left: Plx vs G
new Chart(document.getElementById('cBL'), {
  type: 'scatter',
  data: { datasets: [
    { type: 'line', data: [{ x: plxCut, y: 10.30 }, { x: plxCut, y: 19.32 }], borderColor: '#000', borderWidth: 4, borderDash: [4, 10.67], borderDashOffset: 5.4, borderCapStyle: 'butt', pointRadius: 0, fill: false },
    scatterSet(plxGProb)
  ] },
  options: baseOptions({ left: 0, top: 21, right: 9.3, bottom: 0 },
    axis({ min: -0.0113, max: 0.4412, ticks: plxTicks, dec: 1, title: 'Plx [mas]', tickPad: 3, titlePad: { top: 0, bottom: 5.8 }, h: 67 }),
    axis({ min: 10.30, max: 19.32, reverse: true, ticks: gTicks, dec: 0, title: 'G', tickPad: 10, titlePad: { top: 7.8, bottom: 0 }, w: 77 }),
    { xMinor: 0.02, yMinor: 0.5 })
});

// Bottom-right: BP-RP vs G
new Chart(document.getElementById('cBR'), {
  type: 'scatter',
  data: { datasets: [scatterSet(bprpGProb)] },
  options: baseOptions({ left: 0, top: 21, right: 10.3, bottom: 0 },
    axis({ min: 0.789, max: 4.519, ticks: bprpTicks, dec: 0, title: 'BP-RP', tickPad: 3, titlePad: { top: 0, bottom: 5.8 }, h: 67 }),
    axis({ min: 10.30, max: 19.32, reverse: true, ticks: gTicks, dec: 0, title: 'G', tickPad: 10, titlePad: { top: 31.8, bottom: 0 }, w: 100.7 }),
    { xMinor: 0.2, yMinor: 0.5 })
});

// Colorbar
new Chart(document.getElementById('cCB'), {
  type: 'bar',
  data: { labels: ['p'], datasets: [{
    data: [probRange],
    backgroundColor: (c) => {
      const a = c.chart.chartArea; if (!a) return 'rgba(0,0,0,0)';
      const g = c.chart.ctx.createLinearGradient(0, a.bottom, 0, a.top);
      for (let i = 0; i <= 40; i++) g.addColorStop(i / 40, colorFor(probRange[0] + (probRange[1] - probRange[0]) * i / 40, 0.8));
      return g;
    },
    borderWidth: 0, barPercentage: 1, categoryPercentage: 1
  }] },
  options: {
    responsive: false, animation: false, events: [],
    layout: { padding: { left: 24.3, top: 16, right: 0, bottom: 83 }, autoPadding: false },
    plugins: { legend: { display: false }, tooltip: { enabled: false }, frame: { cb: true, yMinor: 0.02 } },
    scales: {
      x: { display: false, offset: false },
      y: {
        type: 'linear', position: 'right', min: probRange[0], max: probRange[1],
        grid: { display: false, drawTicks: false }, border: { display: false },
        afterBuildTicks: s => { s.ticks = probTicks.map(v => ({ value: v })); },
        ticks: { autoSkip: false, padding: 7, callback: fmt(1), color: INK },
        afterFit: s => { s.width = 47.3; noPad(s); }
      }
    }
  }
});
</script>
</body></html>
